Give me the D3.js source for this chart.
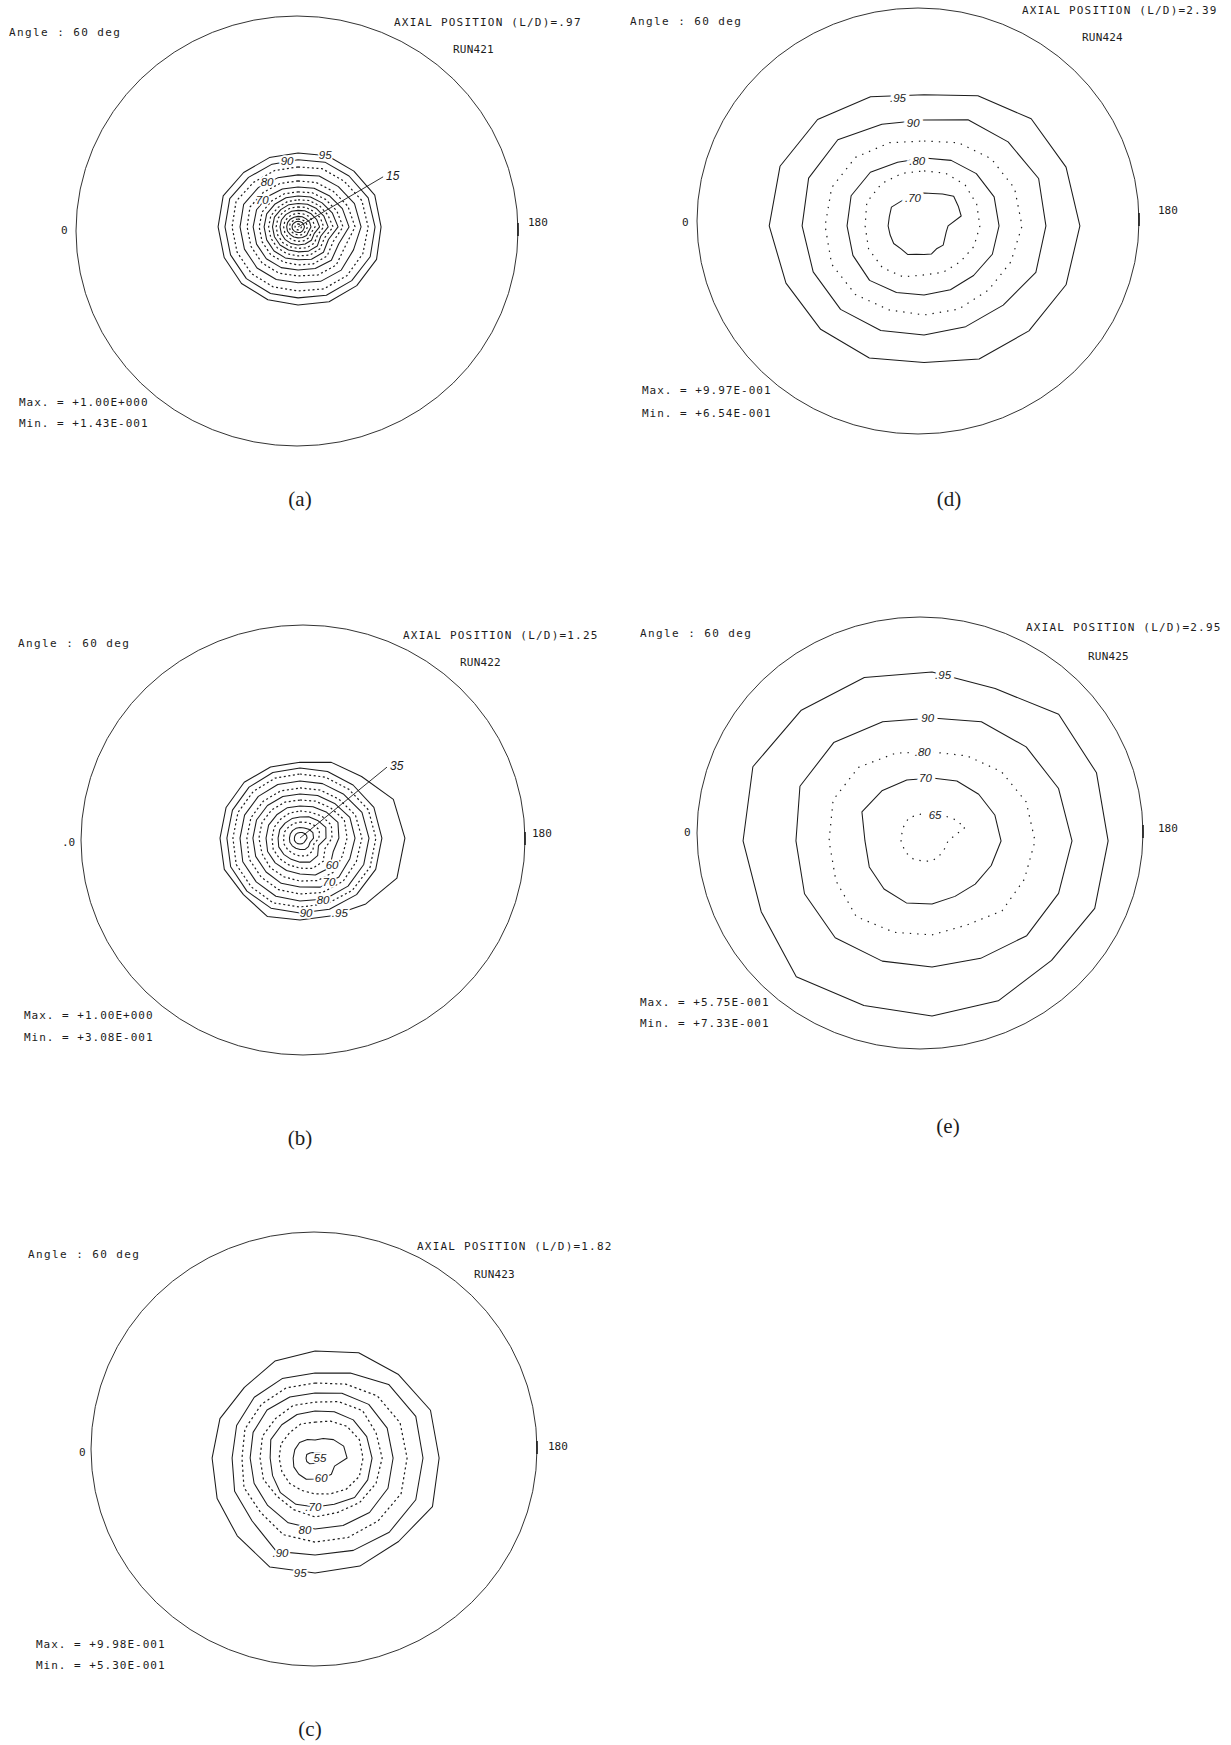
<!DOCTYPE html>
<html>
<head>
<meta charset="utf-8">
<script src="https://cdn.jsdelivr.net/npm/d3@7"></script>
<style>
  html, body { margin: 0; padding: 0; background: #ffffff; }
  svg { display: block; background: #ffffff; }
</style>
</head>
<body>
<svg id="chart" width="1231" height="1745"></svg>
<script>
// ---------------- DATA ----------------
// radii are given in percent of the unit radius of each polar plot,
// at equally spaced angles (clockwise from the top), starting at the top.
const panelIds = ["a", "b", "c", "d", "e"];
const runNames = ["RUN421", "RUN422", "RUN423", "RUN424", "RUN425"];
const axialPositions = [".97", "1.25", "1.82", "2.39", "2.95"];
const angleText = "Angle : 60 deg";
const maxValues = ["+1.00E+000", "+1.00E+000", "+9.98E-001", "+9.97E-001", "+5.75E-001"];
const minValues = ["+1.43E-001", "+3.08E-001", "+5.30E-001", "+6.54E-001", "+7.33E-001"];
const zeroLabels = ["0", ".0", "0", "0", "0"];
const endLabel = "180";

// ---- panel (a) RUN421 ----
const levelsA = [95, 90, 85, 80, 75, 70, 65, 60, 55, 50, 45, 40, 35, 30, 25, 20, 15];
const dottedA = [85, 75, 65, 55, 45, 35, 25, 15];
const offsetA = [0.5, -1.9];
const radiiA = [
  [34.4, 35.8, 36.7, 38.6, 38.6, 39.5, 38.6, 37.7, 36.3, 36.7, 37.2, 37.2, 37.2, 37.7, 35.8, 34.9],
  [31.2, 32.6, 33.5, 35.3, 35.8, 36.3, 35.3, 34.4, 33.0, 33.5, 34.0, 34.0, 34.0, 34.4, 32.6, 31.6],
  [27.9, 29.3, 30.2, 32.1, 32.6, 32.6, 32.1, 31.2, 29.8, 30.2, 30.7, 30.7, 30.7, 31.2, 29.3, 28.4],
  [24.2, 25.6, 26.5, 28.4, 29.3, 27.9, 28.4, 27.4, 26.0, 26.5, 27.0, 27.0, 27.0, 27.4, 26.0, 24.7],
  [21.4, 22.3, 23.3, 25.1, 26.5, 23.7, 25.1, 24.2, 22.8, 23.3, 23.7, 23.7, 23.7, 24.2, 22.8, 21.9],
  [18.6, 19.5, 20.5, 22.3, 23.7, 20.5, 21.9, 20.9, 20.0, 20.5, 20.9, 20.9, 20.9, 20.9, 20.0, 19.1],
  [16.3, 17.2, 18.1, 19.5, 20.9, 17.7, 19.1, 18.6, 17.7, 17.7, 18.1, 18.1, 18.1, 18.1, 17.2, 16.7],
  [14.4, 15.1, 15.8, 17.2, 18.6, 15.3, 16.7, 16.3, 15.3, 15.6, 15.8, 15.8, 15.8, 15.8, 15.1, 14.7],
  [12.6, 13.3, 14.0, 14.9, 16.3, 13.3, 14.4, 14.2, 13.5, 13.5, 13.7, 13.7, 13.7, 13.7, 13.0, 12.8],
  [10.9, 11.4, 12.1, 13.0, 14.0, 11.4, 12.6, 12.3, 11.6, 11.6, 11.9, 11.9, 11.9, 11.9, 11.4, 11.2],
  [9.3, 9.8, 10.2, 11.2, 11.9, 9.8, 10.7, 10.5, 10.0, 10.0, 10.2, 10.2, 10.2, 10.2, 9.8, 9.5],
  [7.7, 8.1, 8.6, 9.3, 10.0, 8.1, 8.8, 8.6, 8.4, 8.4, 8.4, 8.4, 8.4, 8.4, 8.1, 7.9],
  [6.3, 6.5, 7.0, 7.4, 7.9, 6.7, 7.2, 7.0, 6.7, 6.7, 6.7, 6.7, 6.7, 6.7, 6.5, 6.3],
  [4.9, 5.1, 5.3, 5.8, 6.0, 5.3, 5.6, 5.3, 5.1, 5.1, 5.1, 5.3, 5.3, 5.3, 5.1, 4.9],
  [3.7, 3.7, 4.0, 4.2, 4.4, 4.0, 4.0, 4.0, 3.7, 3.7, 3.7, 4.0, 4.0, 4.0, 3.7, 3.7],
  [2.6, 2.6, 2.8, 2.8, 3.0, 2.8, 2.8, 2.8, 2.6, 2.6, 2.6, 2.8, 2.8, 2.8, 2.6, 2.6],
  [1.4, 1.4, 1.4, 1.6, 1.6, 1.4, 1.4, 1.4, 1.4, 1.4, 1.4, 1.4, 1.4, 1.4, 1.4, 1.4]
];
const labelsA = [
  { text: "90", angle: 350.5, r: 31.1 },
  { text: "95", angle: 20.6, r: 35.8 },
  { text: "80", angle: 325.4, r: 25.4 },
  { text: "70", angle: 307, r: 20.9 }
];
const leaderA = { text: "15", angle: 59.5, r: 45.9 };

// ---- panel (b) RUN422 ----
const levelsB = [95, 90, 85, 80, 75, 70, 65, 60, 55, 50, 45, 40, 35];
const dottedB = [85, 75, 65, 55, 45];
const offsetB = [-1.4, -0.9];
const radiiB = [
  [35.3, 38.1, 40.5, 47.0, 48.8, 48.8, 43.3, 39.1, 38.1, 39.5, 37.2, 38.1, 37.2, 37.2, 36.7, 35.8],
  [32.6, 33.5, 34.9, 37.2, 38.1, 38.1, 37.2, 35.8, 34.9, 35.3, 34.9, 34.9, 34.0, 34.0, 33.5, 33.0],
  [29.8, 30.7, 32.1, 34.4, 35.3, 35.3, 34.4, 33.0, 32.1, 32.6, 32.1, 32.1, 31.2, 31.2, 30.7, 30.2],
  [26.5, 27.4, 28.8, 31.2, 32.1, 32.1, 31.6, 30.7, 29.3, 29.3, 28.8, 28.8, 27.9, 27.9, 27.4, 27.0],
  [23.3, 24.2, 25.6, 27.9, 28.8, 28.4, 28.4, 27.4, 26.0, 26.0, 25.6, 25.6, 24.7, 24.7, 24.2, 23.7],
  [20.5, 21.4, 22.8, 25.1, 25.6, 25.1, 25.6, 24.7, 22.8, 22.8, 22.3, 22.3, 21.9, 21.9, 21.4, 20.9],
  [17.7, 18.6, 20.0, 22.3, 21.9, 21.4, 22.3, 21.4, 20.0, 19.5, 19.5, 19.1, 19.1, 19.1, 18.6, 18.1],
  [14.9, 15.8, 17.2, 19.1, 18.1, 16.7, 19.5, 18.6, 16.7, 16.3, 16.3, 16.3, 15.8, 15.8, 15.3, 15.3],
  [12.6, 13.0, 14.4, 15.8, 14.9, 12.6, 15.3, 15.3, 14.0, 13.5, 13.5, 13.5, 13.0, 13.0, 12.6, 12.6],
  [9.8, 10.7, 11.6, 13.0, 12.1, 9.3, 11.6, 12.1, 11.2, 10.7, 10.7, 10.7, 10.2, 10.2, 9.8, 9.8],
  [7.4, 7.9, 8.8, 9.8, 8.8, 7.0, 8.4, 8.8, 8.4, 7.9, 7.9, 7.9, 7.7, 7.7, 7.4, 7.4],
  [4.9, 5.1, 5.8, 6.5, 6.3, 5.1, 5.6, 5.8, 5.3, 5.1, 5.1, 5.1, 4.9, 4.9, 4.9, 4.9],
  [2.6, 2.8, 3.0, 3.3, 3.3, 2.8, 2.8, 2.8, 2.8, 2.8, 2.8, 2.8, 2.6, 2.6, 2.6, 2.6]
];
const labelsB = [
  { text: "60", angle: 130, r: 19.5 },
  { text: "70", angle: 146.6, r: 24.5 },
  { text: "80", angle: 159.6, r: 30.8 },
  { text: "90", angle: 175.4, r: 35.0 },
  { text: ".95", angle: 152, r: 39.5 }
];
const leaderB = { text: "35", angle: 50.8, r: 52.2 };

// ---- panel (c) RUN423 ----
const levelsC = [95, 90, 85, 80, 75, 70, 65, 60, 55];
const dottedC = [85, 75, 65];
const offsetC = [0.5, 4.2];
const radiiC = [
  [49.8, 53.0, 54.9, 58.1, 57.7, 59.1, 54.9, 54.4, 53.5, 54.9, 51.2, 49.3, 47.9, 47.9, 46.5, 48.8],
  [39.5, 42.8, 48.4, 50.7, 50.2, 50.7, 48.8, 46.5, 45.1, 47.0, 41.4, 40.5, 38.6, 39.5, 40.0, 40.0],
  [34.9, 37.2, 40.9, 42.8, 42.8, 43.3, 41.4, 40.0, 39.1, 38.6, 35.8, 35.8, 34.0, 35.3, 35.3, 35.3],
  [30.2, 32.6, 35.3, 36.3, 36.3, 36.7, 35.8, 34.0, 33.0, 32.6, 31.2, 30.7, 30.2, 31.2, 31.6, 30.7],
  [26.0, 28.4, 31.2, 30.7, 31.2, 30.7, 29.3, 27.4, 27.4, 26.0, 25.1, 26.0, 25.6, 26.5, 26.0, 26.5],
  [21.9, 23.3, 25.1, 26.0, 26.5, 26.5, 26.0, 23.3, 22.8, 23.3, 22.8, 21.4, 20.9, 22.3, 21.9, 21.9],
  [16.7, 18.6, 20.9, 22.3, 22.3, 22.3, 20.5, 18.1, 16.7, 16.3, 16.7, 16.7, 16.7, 17.2, 16.7, 17.2],
  [8.4, 9.8, 12.1, 14.4, 14.9, 9.8, 10.7, 10.2, 9.8, 10.7, 10.7, 10.7, 10.2, 10.2, 10.2, 9.3],
  [2.3, 2.8, 3.7, 4.2, 4.2, 3.7, 2.8, 2.3, 2.3, 2.8, 3.7, 4.2, 4.2, 4.2, 3.3, 2.8]
];
const labelsC = [
  { text: "55", angle: 90, r: 2.3 },
  { text: "60", angle: 163, r: 9.7 },
  { text: ".70", angle: 182, r: 22.8 },
  { text: "80", angle: 188, r: 33.8 },
  { text: ".90", angle: 200, r: 47.0 },
  { text: "95", angle: 187.4, r: 54.0 }
];

// ---- panel (d) RUN424 ----
const levelsD = [95, 90, 85, 80, 75, 70];
const dottedD = [85, 75];
const offsetD = [2.8, 2.3];
const radiiD = [
  [61.0, 65.5, 70.5, 71.5, 72.5, 71.5, 69.0, 67.0, 63.5, 66.5, 68.0, 69.5, 72.0, 72.5, 70.0, 65.0],
  [49.3, 53.5, 55.3, 57.7, 56.7, 56.3, 52.1, 50.7, 50.7, 52.6, 54.9, 55.8, 56.7, 58.1, 56.7, 51.2],
  [39.5, 41.9, 44.2, 45.6, 45.6, 43.7, 42.3, 41.9, 41.4, 42.3, 45.1, 46.5, 46.0, 46.5, 45.1, 41.9],
  [31.6, 33.0, 34.4, 35.3, 34.9, 34.4, 32.6, 32.1, 32.1, 33.5, 35.8, 35.8, 35.8, 36.7, 35.3, 32.1],
  [25.6, 26.5, 27.0, 26.5, 26.0, 25.1, 23.7, 23.3, 22.8, 25.6, 27.4, 27.9, 27.4, 28.8, 27.9, 26.5],
  [15.3, 15.6, 17.2, 19.5, 18.4, 17.9, 11.2, 10.7, 11.2, 12.6, 12.1, 13.5, 13.3, 13.7, 15.3, 15.1,
   16.3, 16.3, 16.7, 16.7, 17.5, 15.8, 15.3, 14.9]
];
const labelsD = [
  { text: ".95", angle: 348.5, r: 60.8 },
  { text: "90", angle: 354, r: 48.2 },
  { text: ".80", angle: 354, r: 30.4 },
  { text: ".70", angle: 338.5, r: 14.0 }
];

// ---- panel (e) RUN425 ----
const levelsE = [95, 90, 80, 70, 65];
const dottedE = [80, 65];
const offsetE = [5.6, 3.7];
const radiiE = [
  [78.6, 76.7, 83.3, 82.8, 81.9, 81.9, 78.6, 80.5, 81.4, 82.8, 89.3, 86.0, 87.9, 90.2, 86.0, 82.3],
  [57.2, 60.0, 61.9, 63.7, 65.1, 63.7, 62.3, 59.1, 58.6, 60.5, 63.7, 64.2, 63.3, 66.5, 64.7, 60.0],
  [41.4, 42.8, 45.6, 47.4, 47.9, 46.5, 46.0, 42.3, 43.7, 46.0, 49.8, 48.4, 47.9, 49.8, 48.4, 44.2],
  [29.3, 30.2, 30.7, 31.6, 32.1, 29.8, 28.4, 27.9, 29.3, 31.2, 31.6, 31.6, 31.2, 35.3, 33.0, 30.7],
  [12.1, 13.0, 14.4, 16.7, 7.4, 7.0, 7.0, 7.9, 9.3, 10.2, 12.1, 13.5, 14.4, 14.9, 15.3, 13.5]
];
const labelsE = [
  { text: ".95", angle: 3.8, r: 77.4 },
  { text: "90", angle: 358, r: 57.2 },
  { text: ".80", angle: 354, r: 41.6 },
  { text: "70", angle: 354, r: 29.5 },
  { text: "65", angle: 6.6, r: 12.2 }
];

// ---------------- LAYOUT / STYLE (not data) ----------------
const layout = {
  a: { cx: 297, cy: 231, rx: 221, ry: 215, angle: [9, 36], title: [394, 26], run: [453, 53], zero: [61, 234], end: [528, 226], max: [19, 406], min: [19, 427], tag: [300, 506], halo: 3.5, dash: "2,2.6" },
  b: { cx: 303, cy: 840, rx: 222, ry: 215, angle: [18, 647], title: [403, 639], run: [460, 666], zero: [62, 846], end: [532, 837], max: [24, 1019], min: [24, 1041], tag: [300, 1145], halo: 3.5, dash: "2,2.6" },
  c: { cx: 314, cy: 1449, rx: 223, ry: 217, angle: [28, 1258], title: [417, 1250], run: [474, 1278], zero: [79, 1456], end: [548, 1450], max: [36, 1648], min: [36, 1669], tag: [310, 1736], halo: 3.5, dash: "2.2,2.8" },
  d: { cx: 918, cy: 221, rx: 221, ry: 213, angle: [630, 25], title: [1022, 14], run: [1082, 41], zero: [682, 226], end: [1158, 214], max: [642, 394], min: [642, 417], tag: [949, 506], halo: 7, dash: "1.4,6" },
  e: { cx: 920, cy: 833, rx: 223, ry: 216, angle: [640, 637], title: [1026, 631], run: [1088, 660], zero: [684, 836], end: [1158, 832], max: [640, 1006], min: [640, 1027], tag: [948, 1133], halo: 7, dash: "1.4,6" }
};

const panels = [
  { levels: levelsA, dotted: dottedA, offset: offsetA, radii: radiiA, labels: labelsA, leader: leaderA },
  { levels: levelsB, dotted: dottedB, offset: offsetB, radii: radiiB, labels: labelsB, leader: leaderB },
  { levels: levelsC, dotted: dottedC, offset: offsetC, radii: radiiC, labels: labelsC, leader: null },
  { levels: levelsD, dotted: dottedD, offset: offsetD, radii: radiiD, labels: labelsD, leader: null },
  { levels: levelsE, dotted: dottedE, offset: offsetE, radii: radiiE, labels: labelsE, leader: null }
].map((p, i) => Object.assign(p, {
  id: panelIds[i], run: runNames[i], axial: axialPositions[i],
  max: maxValues[i], min: minValues[i], zero: zeroLabels[i]
}));

// ---------------- DRAWING ----------------
const svg = d3.select("#chart");
const ink = "#1c1c1c";
const monoFont = "'DejaVu Sans Mono', 'Liberation Mono', monospace";

// radial scale: percent of unit radius -> pixels
const rScale = d3.scaleLinear().domain([0, 100]).range([0, 215]);
const toRad = d3.scaleLinear().domain([0, 360]).range([0, 2 * Math.PI]);

const radialLine = d3.lineRadial()
  .angle(d => toRad(d.angle))
  .radius(d => rScale(d.r))
  .curve(d3.curveLinearClosed);

function polar(angle, r) {
  const t = toRad(angle);
  return [rScale(r) * Math.sin(t), -rScale(r) * Math.cos(t)];
}

panels.forEach(p => {
  const L = layout[p.id];
  const g = svg.append("g").attr("transform", `translate(${L.cx},${L.cy})`);

  // outer boundary of the polar plot
  g.append("ellipse")
    .attr("cx", 0).attr("cy", 0)
    .attr("rx", L.rx).attr("ry", L.ry)
    .attr("fill", "none").attr("stroke", ink).attr("stroke-width", 0.9);

  // short tick at the 180 end
  g.append("line")
    .attr("x1", L.rx).attr("x2", L.rx)
    .attr("y1", -8).attr("y2", 5)
    .attr("stroke", ink).attr("stroke-width", 1.6);

  // contour system
  const cg = g.append("g")
    .attr("transform", `translate(${rScale(p.offset[0])},${rScale(p.offset[1])})`);

  p.levels.forEach((lev, k) => {
    const rs = p.radii[k];
    const pts = rs.map((r, j) => ({ angle: j * 360 / rs.length, r }));
    const dotted = p.dotted.includes(lev);
    cg.append("path")
      .attr("d", radialLine(pts))
      .attr("fill", "none")
      .attr("stroke", ink)
      .attr("stroke-width", dotted ? 1.2 : 1.05)
      .attr("stroke-dasharray", dotted ? L.dash : null)
      .attr("stroke-linejoin", "round");
  });

  if (p.leader) {
    const [lx, ly] = polar(p.leader.angle, p.leader.r);
    cg.append("line")
      .attr("x1", 0).attr("y1", 0).attr("x2", lx).attr("y2", ly)
      .attr("stroke", ink).attr("stroke-width", 0.9);
    cg.append("text")
      .attr("x", lx + 3).attr("y", ly - 1)
      .attr("text-anchor", "start")
      .attr("dominant-baseline", "central")
      .attr("font-family", "'Liberation Sans', Arial, sans-serif")
      .attr("font-style", "italic")
      .attr("font-size", 12)
      .attr("fill", ink)
      .text(p.leader.text);
  }

  p.labels.forEach(lb => {
    const [x, y] = polar(lb.angle, lb.r);
    cg.append("text")
      .attr("x", x).attr("y", y)
      .attr("text-anchor", "middle")
      .attr("dominant-baseline", "central")
      .attr("font-family", "'Liberation Sans', Arial, sans-serif")
      .attr("font-style", "italic")
      .attr("font-size", 11.5)
      .attr("fill", ink)
      .attr("stroke", "#ffffff")
      .attr("stroke-width", L.halo)
      .attr("paint-order", "stroke")
      .text(lb.text);
  });

  // texts around the plot
  const mono = (pos, txt, spacing) => svg.append("text")
    .attr("x", pos[0]).attr("y", pos[1])
    .attr("font-family", monoFont)
    .attr("font-size", 11)
    .attr("letter-spacing", spacing)
    .attr("fill", ink)
    .text(txt);

  mono(L.angle, angleText, 1.4);
  mono(L.title, "AXIAL POSITION (L/D)=" + p.axial, 1.2);
  mono(L.run, p.run, 0.2);
  mono(L.zero, p.zero, 0);
  mono(L.end, endLabel, 0);
  mono(L.max, "Max. = " + p.max, 1.0);
  mono(L.min, "Min. = " + p.min, 1.0);

  svg.append("text")
    .attr("x", L.tag[0]).attr("y", L.tag[1])
    .attr("text-anchor", "middle")
    .attr("font-family", "'Liberation Serif', 'Times New Roman', serif")
    .attr("font-size", 21)
    .attr("fill", ink)
    .text("(" + p.id + ")");
});
</script>
</body>
</html>
